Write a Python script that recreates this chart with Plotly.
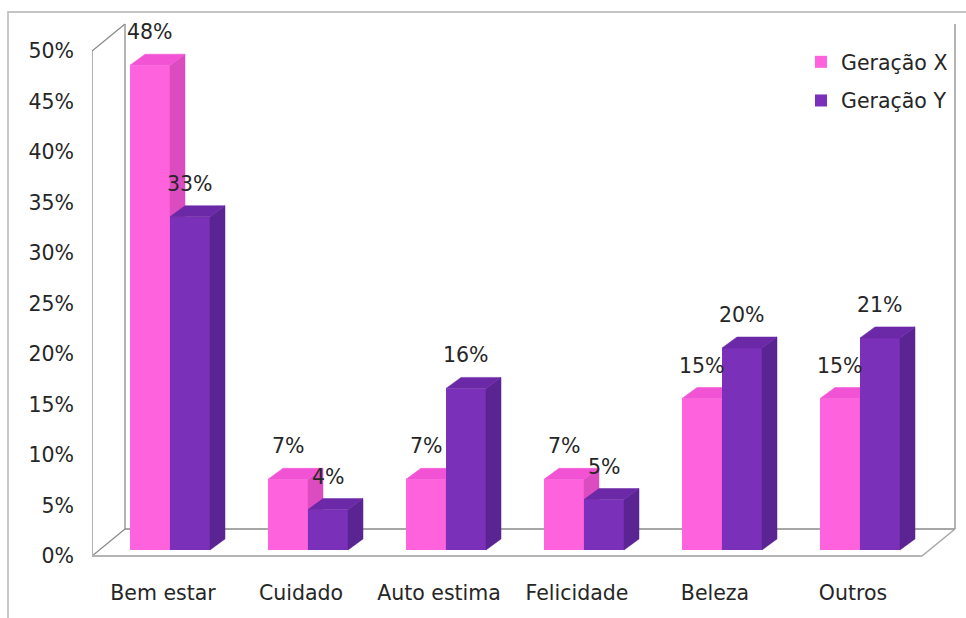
import plotly.graph_objects as go

# ---- data -------------------------------------------------------------
categorias = ["Bem estar", "Cuidado", "Auto estima", "Felicidade", "Beleza", "Outros"]
series = ["Geração X", "Geração Y"]
geracao_x = [48, 7, 7, 7, 15, 15]
geracao_y = [33, 4, 16, 5, 20, 21]
ticks_pct = [0, 5, 10, 15, 20, 25, 30, 35, 40, 45, 50]
ticks_txt = ["0%", "5%", "10%", "15%", "20%", "25%", "30%", "35%", "40%", "45%", "50%"]

# ---- styling ------------------------------------------------------------
FONT = "DejaVu Sans"
FONT_SIZE = 20.5
TEXT_COLOR = "#262626"
# (front, top, side) colours of each series
CORES = [
    ("#FF62DD", "#F253D4", "#DC4CC1"),
    ("#7A30B8", "#6B29A7", "#5A2492"),
]

# ---- oblique-projection geometry (pixel sizes turned into axis units) ----
W, H = 966, 618
PX_CAT = 138.0      # pixels between category centres
PX_PCT = 10.1       # pixels per percentage point
X0_PX = 163.0       # pixel column of category 0 on the front plane
Y0_PX = 556.0       # pixel row of 0 % on the front plane
PLOT_L = 92.0       # left edge of the plotting area
PLOT_B = 572.0      # bottom edge of the plotting area


def ux(px):
    return px / PX_CAT


def uy(px):
    return px / PX_PCT


def paper_x(px):
    return px / W


def paper_y(py):
    return 1 - py / H


x_range = [(PLOT_L - X0_PX) / PX_CAT, (W - X0_PX) / PX_CAT]
y_range = [-(PLOT_B - Y0_PX) / PX_PCT, Y0_PX / PX_PCT]

BAR_W = ux(40)
BAR_OFF = (ux(7), uy(6))        # bars stand a little behind the front edge
BAR_DEPTH = (ux(15), uy(11))    # depth of each column
WALL_DEPTH = (ux(33), uy(27))   # depth of the floor / walls
FLOOR_X = (x_range[0], 5.5)

fig = go.Figure()

valores = [geracao_x, geracao_y]
eixos = [("x", "y"), ("x2", "y2")]

for s, vals in enumerate(valores):
    xa, ya = eixos[s]
    frente, topo, lado = CORES[s]
    centros = [i + BAR_OFF[0] + (s - 0.5) * BAR_W for i in range(len(categorias))]
    base = BAR_OFF[1]

    # front faces
    fig.add_trace(go.Bar(
        x=centros, y=vals, base=base, width=BAR_W,
        marker=dict(color=frente, line=dict(width=0)),
        name=series[s], legendgroup=series[s],
        xaxis=xa, yaxis=ya, hoverinfo="skip",
    ))

    # side and top faces
    sx, sy, tx, ty = [], [], [], []
    ddx, ddy = BAR_DEPTH
    for c, v in zip(centros, vals):
        xl, xr = c - BAR_W / 2, c + BAR_W / 2
        top = base + v
        sx += [xr, xr + ddx, xr + ddx, xr, xr, None]
        sy += [base, base + ddy, top + ddy, top, base, None]
        tx += [xl, xl + ddx, xr + ddx, xr, xl, None]
        ty += [top, top + ddy, top + ddy, top, top, None]
    fig.add_trace(go.Scatter(
        x=sx, y=sy, mode="lines", fill="toself", fillcolor=lado,
        line=dict(color=lado, width=0.5), showlegend=False,
        xaxis=xa, yaxis=ya, hoverinfo="skip",
    ))
    fig.add_trace(go.Scatter(
        x=tx, y=ty, mode="lines", fill="toself", fillcolor=topo,
        line=dict(color=topo, width=0.5), showlegend=False,
        xaxis=xa, yaxis=ya, hoverinfo="skip",
    ))

    # value labels
    for c, v in zip(centros, vals):
        fig.add_annotation(
            x=c, y=base + v + BAR_DEPTH[1], xref="x", yref="y",
            text=f"{v}%", showarrow=False, yanchor="middle", yshift=22,
            font=dict(family=FONT, size=FONT_SIZE, color=TEXT_COLOR),
        )

# ---- floor and walls ------------------------------------------------------
wx, wy = WALL_DEPTH
fx0, fx1 = FLOOR_X
TOP = ticks_pct[-1]
WALL = "#8a8a8a"
linhas = [
    # left wall
    (fx0, 0, fx0, TOP, WALL, 1.3),
    (fx0, TOP, fx0 + wx, TOP + wy, WALL, 1.3),
    (fx0 + wx, wy, fx0 + wx, TOP + wy, WALL, 1.3),
    (fx0, 0, fx0 + wx, wy, WALL, 1.3),
    # back wall
    (fx1 + wx, wy, fx1 + wx, TOP + wy, WALL, 1.3),
    (fx0 + wx, wy, fx1 + wx, wy, WALL, 1.3),
    # floor front and right edges
    (fx1, 0, fx1 + wx, wy, "#a8a8a8", 1.6),
    (fx0, 0, fx1, 0, "#b4b4b4", 2.2),
]
for x0, y0, x1, y1, cor, lw in linhas:
    fig.add_shape(type="line", xref="x", yref="y", x0=x0, y0=y0, x1=x1, y1=y1,
                  line=dict(color=cor, width=lw), layer="below")

# chart frame (open to the right and bottom edges of the page)
fig.add_shape(type="rect", xref="paper", yref="paper",
              x0=paper_x(8), x1=paper_x(W + 10),
              y0=paper_y(H + 10), y1=paper_y(12),
              line=dict(color="#c4c4c4", width=1.8), layer="below")

axis_font = dict(family=FONT, size=FONT_SIZE, color=TEXT_COLOR)
fig.update_layout(
    width=W, height=H,
    margin=dict(l=0, r=0, t=0, b=0),
    paper_bgcolor="white", plot_bgcolor="white",
    font=axis_font,
    showlegend=True,
    legend=dict(
        x=paper_x(801), y=paper_y(42),
        xanchor="left", yanchor="top",
        font=axis_font, tracegroupgap=9, traceorder="grouped",
        bgcolor="rgba(0,0,0,0)",
    ),
    xaxis=dict(
        domain=[PLOT_L / W, 1], range=x_range,
        tickvals=list(range(len(categorias))), ticktext=categorias,
        showgrid=False, zeroline=False, showline=False, ticks="",
        ticklabelstandoff=6, tickfont=axis_font, fixedrange=True,
    ),
    yaxis=dict(
        domain=[(H - PLOT_B) / H, 1], range=y_range,
        tickvals=ticks_pct, ticktext=ticks_txt,
        showgrid=False, zeroline=False, showline=False, ticks="",
        ticklabelstandoff=17, tickfont=axis_font, fixedrange=True,
    ),
    xaxis2=dict(
        domain=[PLOT_L / W, 1], range=x_range, overlaying="x", anchor="y2",
        visible=False, fixedrange=True,
    ),
    yaxis2=dict(
        domain=[(H - PLOT_B) / H, 1], range=y_range, overlaying="y", anchor="x2",
        visible=False, fixedrange=True,
    ),
)

fig.write_html("out.html")
